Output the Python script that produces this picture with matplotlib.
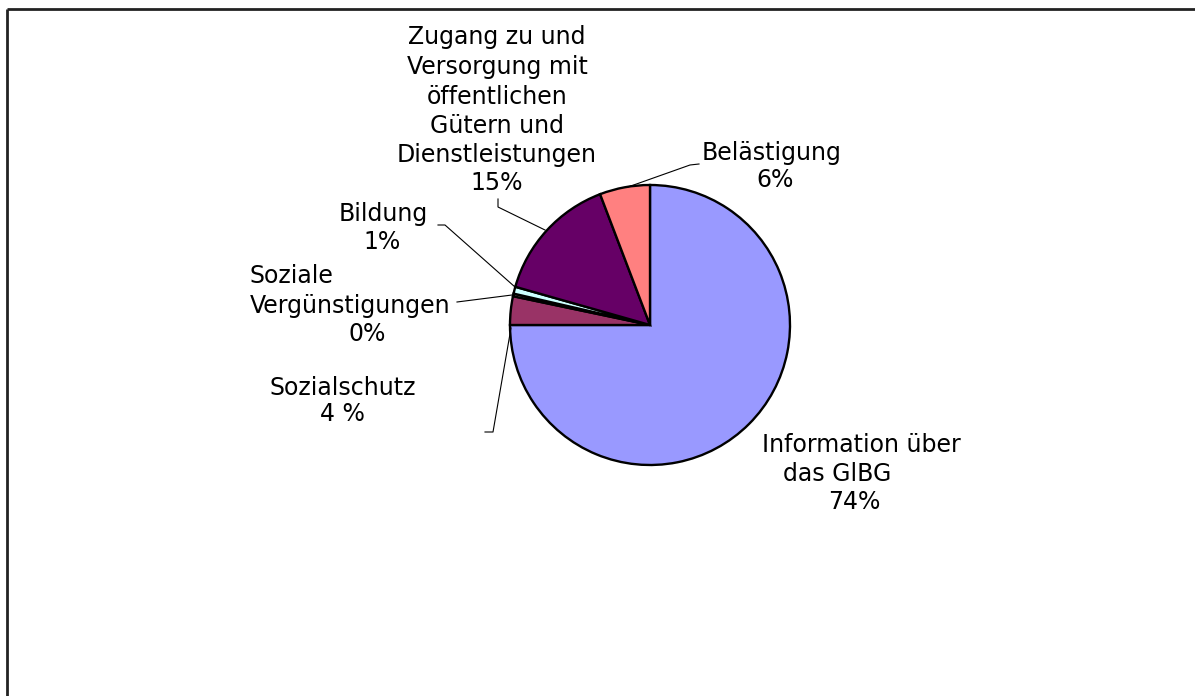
import matplotlib
matplotlib.use("Agg")
import matplotlib.pyplot as plt

# ---- data ----
categories = [
    "Information über das GlBG",
    "Sozialschutz",
    "Soziale Vergünstigungen",
    "Bildung",
    "Zugang zu und Versorgung mit öffentlichen Gütern und Dienstleistungen",
    "Belästigung",
]
values = [75.0, 3.3, 0.3, 0.8, 14.8, 5.8]
pct_labels = ["74%", "4 %", "0%", "1%", "15%", "6%"]
colors = ["#9999FF", "#993366", "#FFFFCC", "#CCFFFF", "#660066", "#FF8080"]

W, H = 1195, 696
fig = plt.figure(figsize=(W / 100, H / 100), dpi=100)
ax = fig.add_axes([0, 0, 1, 1])


def Y(y):
    return H - y


ax.pie(values, colors=colors, startangle=90, counterclock=False,
       center=(650, Y(325)), radius=140,
       wedgeprops=dict(edgecolor="black", linewidth=1.7))
ax.set_xlim(0, W)
ax.set_ylim(0, H)
ax.set_aspect("equal")
ax.axis("off")

# outer frame (only top/left visible)
ax.plot([7, 7], [Y(9), Y(H + 10)], color="#222222", lw=2, solid_capstyle="butt", clip_on=False)
ax.plot([7, W + 10], [Y(9), Y(9)], color="#222222", lw=2, solid_capstyle="butt", clip_on=False)

fs = 17
tk = dict(fontsize=fs, family="DejaVu Sans", color="black", va="center")

# label layout: (lines, x anchors, y-centres, horizontal alignments)
layout = {
    4: (["Zugang zu und", "Versorgung mit", "öffentlichen", "Gütern und", "Dienstleistungen", pct_labels[4]],
        [497] * 6, [37, 67, 97, 126, 155, 183], ["center"] * 6),
    5: (["Belästigung", pct_labels[5]], [772, 775], [153, 180], ["center"] * 2),
    3: (["Bildung", pct_labels[3]], [383, 382], [214, 242], ["center"] * 2),
    2: (["Soziale", "Vergünstigungen", pct_labels[2]], [250, 250, 367], [276, 306, 334],
        ["left", "left", "center"]),
    1: (["Sozialschutz", pct_labels[1]], [343, 342], [388, 414], ["center"] * 2),
    0: (["Information über", "das GlBG", pct_labels[0]], [762, 783, 828], [445, 474, 502],
        ["left", "left", "left"]),
}
for i, (lines, xs, ys, has) in layout.items():
    for t, x, y, h in zip(lines, xs, ys, has):
        ax.text(x, Y(y), t, ha=h, **tk)

# leader lines
leaders = {
    4: [(498, 199), (498, 207), (545, 230)],
    5: [(699, 164), (690, 165), (628, 187)],
    3: [(438, 225), (445, 225), (515, 287)],
    2: [(457, 302), (512, 295)],
    1: [(485, 432), (493, 432), (511, 328)],
}
for i, pts in leaders.items():
    ax.plot([p[0] for p in pts], [Y(p[1]) for p in pts], color="black", lw=0.8)

fig.savefig("out.png", dpi=100, facecolor="white")
